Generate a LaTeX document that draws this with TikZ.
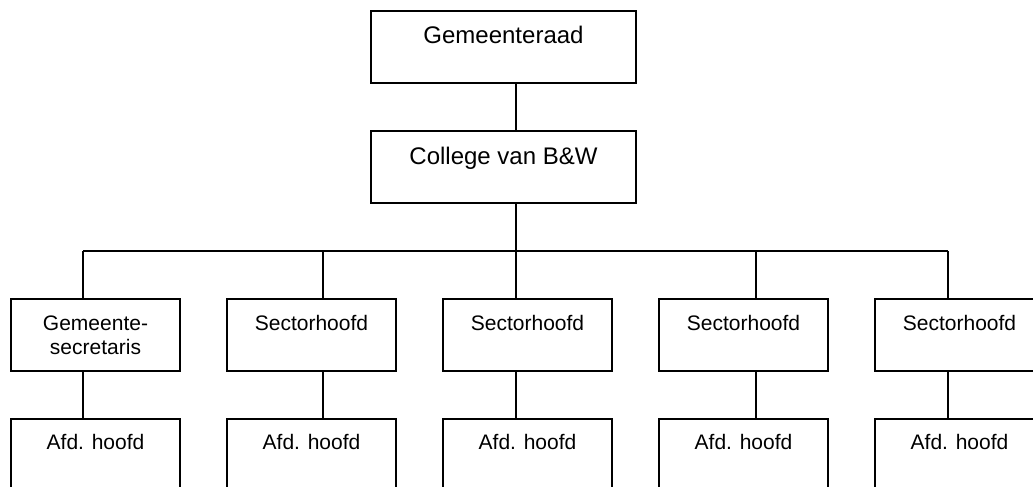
\documentclass[tikz,border=0pt]{standalone}
\usepackage{fontspec}
\setmainfont{Liberation Sans}
\usetikzlibrary{calc}
\begin{document}
\begin{tikzpicture}[x=1pt,y=-1pt,
  box/.style={draw=black,line width=2pt,rectangle,inner sep=0pt,minimum width=#1},
  box/.default=169pt,
  topbox/.style={box=265pt,minimum height=72pt},
  midbox/.style={box,minimum height=72pt},
  lowbox/.style={box,minimum height=90pt},
  bigtxt/.style={anchor=base,inner sep=0pt,font=\fontsize{24}{28}\selectfont},
  smalltxt/.style={anchor=base,inner sep=0pt,font=\fontsize{21}{24}\selectfont,align=center},
  conn/.style={draw=black,line width=2pt}]
\useasboundingbox (0,0) rectangle (1033,487);
\clip (0,0) rectangle (1033,487);
% top boxes
\node[topbox] (gr) at (503.5,47) {};
\node[bigtxt] (grt) at (503.5,44) {Gemeenteraad};
\node[topbox] (cb) at (503.5,167) {};
\node[bigtxt] (cbt) at (503.5,164) {College van B\&W};
% row 1 and row 2
\foreach \i/\cx in {1/95.5,2/311.5,3/527.5,4/743.5,5/959.5}{
  \node[midbox] (s\i) at (\cx,335) {};
  \node[lowbox] (a\i) at (\cx,464) {};
  \node[smalltxt] (at\i) at (\cx,449) {Afd. hoofd};
}
\node[smalltxt] (st1a) at (95.5,330) {Gemeente-};
\node[smalltxt] (st1b) at (95.5,354) {secretaris};
\foreach \i in {2,3,4,5}{
  \node[smalltxt] (st\i) at ($(s\i.center)+(0,-5)$) {Sectorhoofd};
}
% connector coordinates
\coordinate (bus1) at (83,251);
\coordinate (bus2) at (323,251);
\coordinate (bus3) at (516,251);
\coordinate (bus4) at (756,251);
\coordinate (bus5) at (948,251);
\draw[conn] (gr.south -| bus3) -- (cb.north -| bus3);
\draw[conn] (cb.south -| bus3) -- (bus3);
\draw[conn] (bus1) -- (bus5);
\foreach \i in {1,...,5}{
  \draw[conn] (bus\i) -- (bus\i |- s\i.north);
  \draw[conn] (bus\i |- s\i.south) -- (bus\i |- a\i.north);
}
\end{tikzpicture}
\end{document}
